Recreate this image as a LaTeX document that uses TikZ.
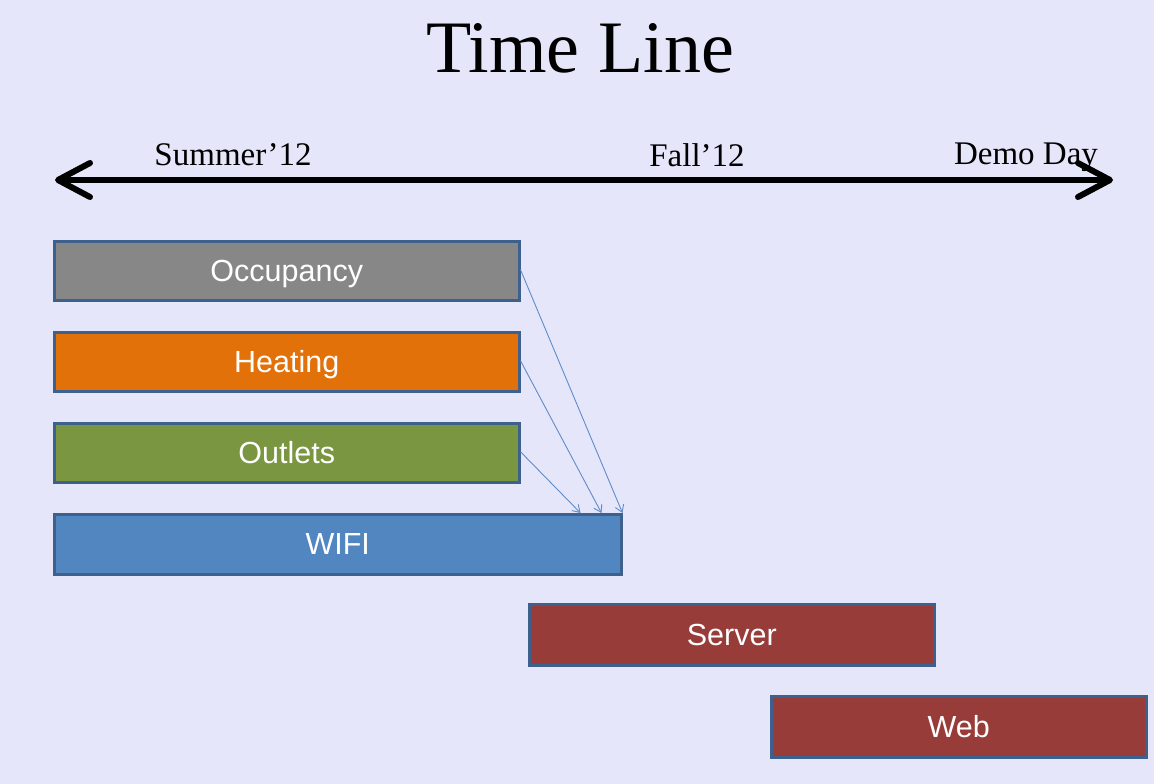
\documentclass[tikz,border=0pt]{standalone}
\usepackage{fontspec}
\setmainfont{Liberation Serif}
\newfontfamily\boxfont{Liberation Sans}
\usetikzlibrary{arrows.meta}
\definecolor{bgcol}{RGB}{230,230,250}
\definecolor{edgecol}{RGB}{62,96,140}
\definecolor{linkcol}{RGB}{95,140,200}
\definecolor{occcol}{RGB}{135,135,135}
\definecolor{heatcol}{RGB}{227,113,10}
\definecolor{outcol}{RGB}{122,150,64}
\definecolor{wificol}{RGB}{82,134,192}
\definecolor{srvcol}{RGB}{152,60,58}
\tikzset{
  task/.style={draw=edgecol, line width=2.5pt, minimum height=59pt, inner sep=0pt,
    text height=26pt, text depth=5pt,
    text=white, font=\boxfont\fontsize{30.5}{34}\selectfont, anchor=north west},
  season/.style={font=\fontsize{33}{38}\selectfont, inner sep=0pt},
  link/.style={draw=linkcol, line width=0.9pt, -{Straight Barb[length=7pt,width=9pt]}},
}
\begin{document}
\begin{tikzpicture}[x=1pt,y=-1pt]
  \fill[bgcol] (0,0) rectangle (1154,784);
  \useasboundingbox (0,0) rectangle (1154,784);

  \node[font=\fontsize{74}{80}\selectfont, inner sep=0pt] (title) at (580,48) {Time Line};

  % main time axis
  \coordinate (axisL) at (55,180);
  \coordinate (axisR) at (1113,180);
  \draw[line width=6pt, {Straight Barb[length=32pt,width=34pt,round]}-{Straight Barb[length=32pt,width=34pt,round]}] (axisL) -- (axisR);
  \node[season] (summer) at (233,155) {Summer’12};
  \node[season] (fall) at (697,155) {Fall’12};
  \node[season] (demo) at (1026,157) {Demo Day};

  % tasks
  \node[task, fill=occcol, minimum width=465pt] (occ) at (53,240) {Occupancy};
  \node[task, fill=heatcol, minimum width=465pt] (heat) at (53,331) {Heating};
  \node[task, fill=outcol, minimum width=465pt] (outl) at (53,422) {Outlets};
  \node[task, fill=wificol, minimum width=567pt, minimum height=60pt] (wifi) at (53,513) {WIFI};
  \node[task, fill=srvcol, minimum width=405pt, minimum height=61pt] (server) at (528,603) {Server};
  \node[task, fill=srvcol, minimum width=375pt, minimum height=61pt] (web) at (770,695) {Web};

  % dependencies into WIFI
  \coordinate (inA) at ([xshift=-42pt]wifi.north east);
  \coordinate (inB) at ([xshift=-21pt]wifi.north east);
  \draw[link] ([yshift=1pt]occ.east) -- (wifi.north east);
  \draw[link] ([yshift=1pt]heat.east) -- (inB);
  \draw[link] ([yshift=1pt]outl.east) -- (inA);
\end{tikzpicture}
\end{document}
